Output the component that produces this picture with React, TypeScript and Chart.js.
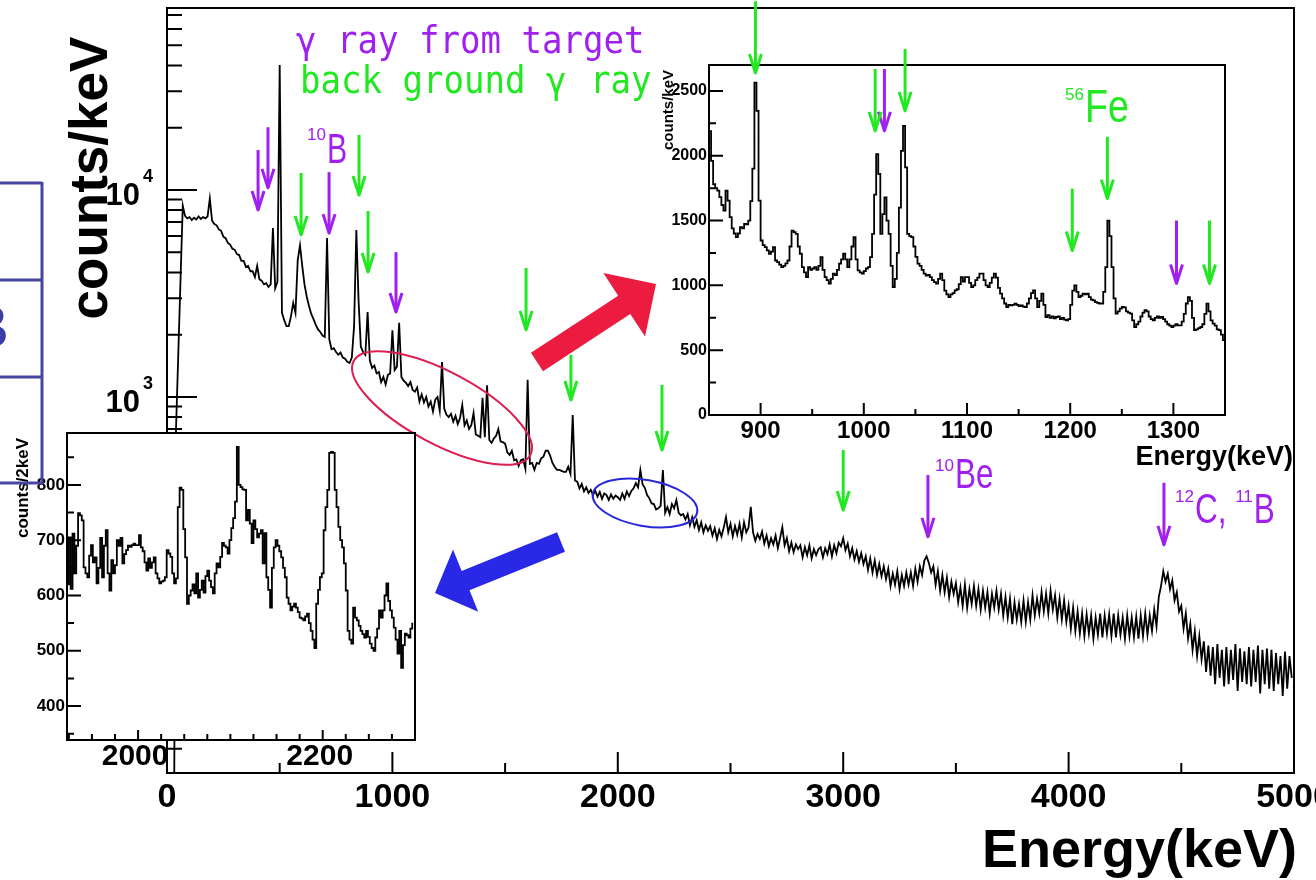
import React, { useEffect, useRef } from "react";
import { Chart, registerables } from "chart.js";

Chart.register(...registerables);

const PAGE_W = 1316;
const PAGE_H = 880;

const SANS = '"Liberation Sans", Arial, Helvetica, sans-serif';
const MONO = '"DejaVu Sans Mono", "Liberation Mono", monospace';
const PURPLE = "#a020f0";
const GREEN = "#22e822";

// ---------- full spectrum, 10 keV bins, counts/keV ----------
const spectrumStartKeV = 0;
const spectrumBinKeV = 10;
const spectrumCounts = [
  3, 3, 3, 5, 700, 1600, 3700, 8400, 7500, 7300,
  7400, 7150, 7350, 7200, 7450, 7250, 7400, 7300, 7450, 9100,
  7100, 6850, 6750, 6450, 6350, 5950, 5850, 5550, 5450, 5200,
  5150, 4900, 4850, 4550, 4550, 4250, 4300, 4050, 4050, 3800,
  4300, 3700, 3650, 3500, 3550, 3400, 3500, 6550, 3350, 3600,
  40200, 2550, 2350, 2200, 2200, 2450, 2850, 2550, 4600, 5400,
  4300, 3500, 3050, 2750, 2520, 2380, 2230, 2120, 2060, 1980,
  1950, 5870, 1900, 1700, 1720, 1650, 1600, 1640, 1550, 1530,
  1480, 1460, 1550, 2200, 6400, 2900, 1750, 1650, 1600, 2570,
  1500, 1380, 1420, 1300, 1320, 1180, 1250, 1150, 1280, 1300,
  2100, 1350, 1400, 2280, 1250, 1200, 1170, 1130, 1180, 1080,
  1060, 1110, 950, 1030, 940, 1000, 900, 950, 850, 970,
  1000, 860, 1475, 880, 820, 800, 830, 760, 810, 740,
  790, 915, 730, 770, 700, 730, 837, 660, 650, 640,
  990, 640, 1140, 620, 600, 630, 650, 700, 610, 605,
  595, 540, 525, 550, 495, 500, 465, 495, 500, 450,
  1210, 475, 480, 445, 480, 475, 505, 515, 550, 550,
  520, 480, 460, 445, 445, 440, 435, 435, 460, 425,
  818, 395, 390, 362, 380, 350, 366, 344, 356, 336,
  352, 330, 348, 322, 342, 336, 318, 338, 322, 334,
  328, 318, 342, 322, 350, 332, 352, 362, 384, 366,
  444, 378, 364, 336, 324, 306, 304, 286, 290, 298,
  444, 276, 294, 272, 304, 290, 318, 276, 268, 272,
  256, 272, 240, 262, 236, 254, 228, 248, 222, 240,
  226, 238, 214, 232, 206, 228, 212, 234, 263, 222,
  244, 212, 238, 216, 244, 210, 248, 222, 234, 295,
  222, 202, 218, 206, 224, 196, 214, 190, 208, 194,
  214, 186, 208, 235, 192, 208, 180, 198, 178, 194,
  184, 192, 168, 188, 172, 192, 166, 184, 172, 184,
  188, 168, 186, 174, 194, 170, 192, 176, 198, 190,
  208, 182, 196, 170, 186, 164, 180, 160, 176, 156,
  170, 146, 166, 142, 162, 138, 156, 136, 152, 132,
  148, 122, 140, 124, 144, 118, 138, 122, 142, 124,
  142, 122, 148, 128, 152, 138, 162, 170, 158, 142,
  152, 124, 144, 116, 138, 114, 134, 108, 128, 112,
  126, 102, 120, 98, 124, 96, 118, 100, 122, 98,
  118, 94, 116, 96, 114, 90, 112, 96, 116, 94,
  112, 88, 108, 86, 106, 80, 102, 84, 100, 82,
  104, 82, 102, 84, 110, 88, 106, 90, 114, 92,
  112, 90, 116, 94, 110, 86, 106, 84, 104, 82,
  98, 76, 96, 74, 92, 72, 90, 70, 89, 72,
  88, 68, 86, 71, 90, 69, 88, 72, 89, 70,
  90, 69, 88, 71, 86, 68, 88, 70, 86, 69,
  87, 68, 88, 70, 90, 71, 88, 74, 94, 78,
  108, 122, 144, 128, 140, 118, 130, 104, 114, 92,
  98, 76, 90, 68, 80, 60, 74, 56, 70, 54,
  66, 47, 63, 45, 62, 41, 64, 44, 60, 40,
  62, 41, 60, 43, 64, 38, 61, 42, 59, 41,
  62, 40, 60, 42, 63, 37, 60, 41, 61, 39,
  60, 38, 58, 41, 56, 36, 59, 39, 56, 44,
];

// ---------- zoom 850-1350 keV, 2 keV bins, counts/keV ----------
const lowZoomStartKeV = 851;
const lowZoomBinKeV = 2;
const lowZoomCounts = [
  2190, 1960, 1780, 1750, 1731, 1680, 1620, 1577, 1731, 1654, 1526, 1440, 1400, 1372, 1400, 1449, 1440, 1474, 1470, 1500, 1650, 1900, 2564, 2346, 1654,
  1346, 1310, 1295, 1270, 1244, 1260, 1295, 1192, 1180, 1160, 1141, 1150, 1170, 1192, 1300, 1423, 1410, 1397, 1300, 1244, 1141, 1100, 1064, 1141, 1120,
  1130, 1141, 1120, 1150, 1218, 1120, 1064, 1040, 1013, 1050, 1090, 1080, 1120, 1167, 1200, 1244, 1200, 1141, 1200, 1300, 1372, 1200, 1115, 1100, 1090,
  1110, 1130, 1141, 1218, 1397, 1700, 2013, 1859, 1397, 1550, 1679, 1500, 1397, 1150, 987, 1050, 1250, 1600, 2038, 2231, 1910, 1397, 1380, 1372, 1300,
  1220, 1167, 1150, 1120, 1090, 1075, 1080, 1064, 1040, 1025, 1013, 1050, 1090, 1040, 960, 930, 910, 930, 940, 962, 970, 1010, 1064, 1030, 1064,
  1064, 1020, 987, 1000, 1040, 1060, 1090, 1090, 1040, 1000, 987, 1020, 1060, 1090, 1060, 980, 936, 900, 860, 833, 850, 845, 850, 859, 850,
  840, 845, 836, 833, 860, 900, 940, 962, 900, 833, 880, 936, 850, 756, 770, 750, 760, 745, 756, 760, 740, 750, 735, 731, 740,
  850, 960, 1000, 950, 910, 920, 936, 930, 936, 910, 890, 885, 870, 865, 860, 859, 950, 1141, 1500, 1380, 1141, 900, 782, 800, 820,
  833, 830, 800, 790, 782, 730, 679, 700, 720, 760, 790, 808, 800, 760, 740, 731, 750, 760, 750, 756, 740, 720, 700, 690, 679,
  690, 700, 692, 692, 720, 780, 860, 910, 880, 750, 654, 660, 670, 679, 700, 780, 859, 800, 730, 705, 690, 660, 654, 620, 577,
];

// ---------- zoom 1923-2300 keV, 2 keV bins, counts/2keV ----------
const highZoomStartKeV = 1924;
const highZoomBinKeV = 2;
const highZoomCounts = [
  620, 705, 612, 712, 640, 690, 749, 745, 736, 651,
  640, 633, 672, 691, 660, 669, 622, 650, 704, 633,
  690, 718, 640, 609, 664, 640, 655, 700, 690, 704,
  658, 675, 682, 690, 688, 691, 694, 691, 691, 709,
  687, 680, 660, 645, 667, 650, 660, 669, 640, 631,
  622, 625, 627, 633, 682, 676, 670, 640, 622, 631,
  760, 795, 791, 720, 669, 585, 600, 609, 620, 604,
  640, 596, 610, 627, 605, 635, 645, 627, 615, 604,
  640, 658, 651, 670, 695, 690, 687, 676, 700, 722,
  740, 770, 869, 800, 796, 792, 791, 736, 755, 730,
  695, 736, 720, 705, 712, 718, 658, 713, 633, 610,
  578, 650, 687, 700, 690, 680, 669, 650, 633, 596,
  585, 573, 580, 585, 578, 570, 560, 558, 555, 562,
  567, 550, 536, 520, 505, 585, 610, 633, 640, 718,
  760, 791, 858, 860, 858, 791, 760, 724, 700, 687,
  658, 609, 536, 520, 513, 578, 560, 555, 545, 536,
  530, 524, 536, 525, 513, 505, 500, 524, 540, 573,
  560, 573, 600, 622, 590, 573, 560, 542, 520, 495,
  536, 469, 510, 531, 528, 524, 540, 549,
];

// ---------- axis ticks ----------
const mainMajorX = [0, 1000, 2000, 3000, 4000, 5000];
const mainMinorX = [500, 1500, 2500, 3500, 4500];
const mainDecades = [1, 2, 3, 4];
const mainLabelDecades = [3, 4];

const lowMajorX = [900, 1000, 1100, 1200, 1300];
const lowMinorX = [850, 950, 1050, 1150, 1250, 1350];
const lowMajorY = [0, 500, 1000, 1500, 2000, 2500];
const lowMinorY = [250, 750, 1250, 1750, 2250];

const highLabelX = [2000, 2200];
const highTickX = [1925, 1950, 1975, 2000, 2025, 2050, 2075, 2100, 2125, 2150, 2175, 2200, 2225, 2250, 2275];
const highMajorY = [400, 500, 600, 700, 800];
const highMinorY = [350, 450, 550, 650, 750, 850];

// ---------- line markers: [energy keV, arrow top, arrow tip] in counts ----------
const mainTargetMarks = [
  [404, 15600, 8000],
  [448, 20100, 10240],
  [719, 12200, 6190],
  [1016, 5010, 2575],
  [3376, 420, 211],
  [4423, 385, 193],
];
const mainBackgroundMarks = [
  [595, 12080, 6070],
  [852, 18460, 9460],
  [892, 7920, 4020],
  [1593, 4200, 2110],
  [1792, 1597, 968],
  [2196, 1143, 555],
  [3000, 555, 284],
];
const lowTargetMarks = [
  [1020, 2669, 2192],
  [1303, 1500, 1015],
];
const lowBackgroundMarks = [
  [895, 3192, 2638],
  [1011, 2669, 2192],
  [1040, 2823, 2346],
  [1202, 1746, 1269],
  [1236, 2146, 1669],
  [1335, 1500, 1015],
];

function binsToPoints(start: number, width: number, counts: number[]) {
  return counts.map((c, i) => ({ x: start + i * width, y: c }));
}

function downArrow(ctx: CanvasRenderingContext2D, x: number, yTop: number, yTip: number, color: string) {
  ctx.save();
  ctx.strokeStyle = color;
  ctx.lineWidth = 3;
  ctx.lineJoin = "round";
  ctx.beginPath();
  ctx.moveTo(x, yTop);
  ctx.lineTo(x, yTip);
  ctx.stroke();
  ctx.beginPath();
  ctx.moveTo(x - 6, yTip - 19);
  ctx.lineTo(x, yTip);
  ctx.lineTo(x + 6, yTip - 19);
  ctx.stroke();
  ctx.restore();
}

function blockArrow(
  ctx: CanvasRenderingContext2D,
  tx: number, ty: number, hx: number, hy: number,
  shaft: number, headW: number, headL: number, color: string
) {
  const dx = hx - tx;
  const dy = hy - ty;
  const len = Math.hypot(dx, dy);
  const ux = dx / len;
  const uy = dy / len;
  const nx = -uy;
  const ny = ux;
  const bx = hx - ux * headL;
  const by = hy - uy * headL;
  ctx.save();
  ctx.fillStyle = color;
  ctx.beginPath();
  ctx.moveTo(tx + (nx * shaft) / 2, ty + (ny * shaft) / 2);
  ctx.lineTo(bx + (nx * shaft) / 2, by + (ny * shaft) / 2);
  ctx.lineTo(bx + (nx * headW) / 2, by + (ny * headW) / 2);
  ctx.lineTo(hx, hy);
  ctx.lineTo(bx - (nx * headW) / 2, by - (ny * headW) / 2);
  ctx.lineTo(bx - (nx * shaft) / 2, by - (ny * shaft) / 2);
  ctx.lineTo(tx - (nx * shaft) / 2, ty - (ny * shaft) / 2);
  ctx.closePath();
  ctx.fill();
  ctx.restore();
}

// nuclide label: pairs of [mass number, symbol text]
function nuclide(
  ctx: CanvasRenderingContext2D, x: number, baseline: number,
  parts: string[][], color: string, bigPx: number, squeeze: number, supRaise: number
) {
  ctx.save();
  ctx.fillStyle = color;
  ctx.textAlign = "left";
  ctx.textBaseline = "alphabetic";
  let cx = x;
  for (const [sup, main] of parts) {
    ctx.font = `17px ${SANS}`;
    ctx.fillText(sup, cx, baseline - supRaise);
    cx += ctx.measureText(sup).width + 1;
    ctx.font = `${bigPx}px ${SANS}`;
    const w = ctx.measureText(main).width * squeeze;
    ctx.save();
    ctx.translate(cx, baseline);
    ctx.scale(squeeze, 1);
    ctx.fillText(main, 0, 0);
    ctx.restore();
    cx += w;
  }
  ctx.restore();
}

function rotatedText(ctx: CanvasRenderingContext2D, text: string, x: number, y: number, font: string) {
  ctx.save();
  ctx.translate(x, y);
  ctx.rotate(-Math.PI / 2);
  ctx.font = font;
  ctx.fillStyle = "#000";
  ctx.textAlign = "center";
  ctx.textBaseline = "alphabetic";
  ctx.fillText(text, 0, 0);
  ctx.restore();
}

function monoText(ctx: CanvasRenderingContext2D, text: string, x: number, baseline: number, color: string) {
  ctx.save();
  ctx.translate(x, baseline);
  ctx.scale(0.92, 1);
  ctx.font = `37px ${MONO}`;
  ctx.fillStyle = color;
  ctx.textAlign = "left";
  ctx.textBaseline = "alphabetic";
  ctx.fillText(text, 0, 0);
  ctx.restore();
}

function whiteFrame() {
  return {
    id: "whiteFrame",
    beforeDatasetsDraw(chart: any) {
      const { ctx, chartArea: a } = chart;
      ctx.save();
      ctx.fillStyle = "#fff";
      ctx.fillRect(a.left, a.top, a.right - a.left, a.bottom - a.top);
      ctx.restore();
    },
  };
}

// ---------- decoration of the full spectrum ----------
const mainDecor = {
  id: "mainDecor",
  afterDraw(chart: any) {
    const { ctx, chartArea: a } = chart;
    const xs = chart.scales.x;
    const ys = chart.scales.y;
    ctx.save();
    ctx.strokeStyle = "#000";
    ctx.lineWidth = 2;
    ctx.strokeRect(a.left, a.top, a.right - a.left, a.bottom - a.top);

    ctx.beginPath();
    for (const v of mainMajorX) {
      const x = xs.getPixelForValue(v);
      ctx.moveTo(x, a.bottom);
      ctx.lineTo(x, a.bottom - 21);
    }
    for (const v of mainMinorX) {
      const x = xs.getPixelForValue(v);
      ctx.moveTo(x, a.bottom);
      ctx.lineTo(x, a.bottom - 10);
    }
    for (const d of mainDecades) {
      for (let k = 1; k <= 9; k++) {
        const v = k * Math.pow(10, d);
        if (v < ys.min || v > ys.max) continue;
        const y = ys.getPixelForValue(v);
        ctx.moveTo(a.left, y);
        ctx.lineTo(a.left + (k === 1 ? 30 : 15), y);
      }
    }
    ctx.stroke();

    ctx.fillStyle = "#000";
    ctx.font = `bold 34px ${SANS}`;
    ctx.textAlign = "center";
    ctx.textBaseline = "middle";
    for (const v of mainMajorX) ctx.fillText(String(v), xs.getPixelForValue(v), a.bottom + 25);

    for (const d of mainLabelDecades) {
      const y = ys.getPixelForValue(Math.pow(10, d));
      ctx.textBaseline = "alphabetic";
      ctx.textAlign = "right";
      ctx.font = `bold 31px ${SANS}`;
      ctx.fillText("10", a.left - 27, y + 15);
      ctx.textAlign = "left";
      ctx.font = `bold 18px ${SANS}`;
      ctx.fillText(String(d), a.left - 24, y - 8);
    }

    rotatedText(ctx, "counts/keV", 107, 178, `bold 53px ${SANS}`);
    ctx.font = `bold 54px ${SANS}`;
    ctx.textAlign = "right";
    ctx.textBaseline = "alphabetic";
    ctx.fillText("Energy(keV)", 1297, 867);

    // legend lines
    monoText(ctx, "\u03b3 ray from target", 296, 53, PURPLE);
    monoText(ctx, "back ground \u03b3", 300, 93, GREEN);
    monoText(ctx, "ray", 590, 93, GREEN);

    for (const [e, top, tip] of mainTargetMarks)
      downArrow(ctx, xs.getPixelForValue(e), ys.getPixelForValue(top), ys.getPixelForValue(tip), PURPLE);
    for (const [e, top, tip] of mainBackgroundMarks)
      downArrow(ctx, xs.getPixelForValue(e), ys.getPixelForValue(top), ys.getPixelForValue(tip), GREEN);

    nuclide(ctx, 307, 163, [["10", "B"]], PURPLE, 42, 0.72, 23);
    nuclide(ctx, 935, 488, [["10", "Be"]], PURPLE, 42, 0.75, 17);
    nuclide(ctx, 1175, 523, [["12", "C, "], ["11", "B"]], PURPLE, 42, 0.75, 21);

    // highlighted regions
    ctx.lineWidth = 2;
    ctx.strokeStyle = "#dc1e50";
    ctx.beginPath();
    ctx.ellipse(442, 408, 100, 36, (28 * Math.PI) / 180, 0, Math.PI * 2);
    ctx.stroke();
    ctx.strokeStyle = "#2828d8";
    ctx.beginPath();
    ctx.ellipse(645, 503, 53, 23, (10 * Math.PI) / 180, 0, Math.PI * 2);
    ctx.stroke();

    blockArrow(ctx, 537, 362, 656, 284, 22, 76, 38, "#ec1c40");
    blockArrow(ctx, 561, 542, 435, 593, 21, 67, 33, "#2828e6");
    ctx.restore();
  },
};

// ---------- decoration of the 850-1350 keV zoom ----------
function lowZoomDecor(ox: number, oy: number) {
  return {
    id: "lowZoomDecor",
    afterDraw(chart: any) {
      const { ctx, chartArea: a } = chart;
      const xs = chart.scales.x;
      const ys = chart.scales.y;
      ctx.save();
      ctx.strokeStyle = "#000";
      ctx.lineWidth = 2;
      ctx.strokeRect(a.left, a.top, a.right - a.left, a.bottom - a.top);
      ctx.beginPath();
      for (const v of lowMajorY) {
        const y = ys.getPixelForValue(v);
        ctx.moveTo(a.left, y);
        ctx.lineTo(a.left + 14, y);
      }
      for (const v of lowMinorY) {
        const y = ys.getPixelForValue(v);
        ctx.moveTo(a.left, y);
        ctx.lineTo(a.left + 7, y);
      }
      for (const v of lowMajorX) {
        const x = xs.getPixelForValue(v);
        ctx.moveTo(x, a.bottom);
        ctx.lineTo(x, a.bottom - 12);
      }
      for (const v of lowMinorX) {
        const x = xs.getPixelForValue(v);
        ctx.moveTo(x, a.bottom);
        ctx.lineTo(x, a.bottom - 6);
      }
      ctx.stroke();

      ctx.fillStyle = "#000";
      ctx.font = `bold 16px ${SANS}`;
      ctx.textAlign = "right";
      ctx.textBaseline = "middle";
      for (const v of lowMajorY) ctx.fillText(String(v), a.left - 2, ys.getPixelForValue(v));
      ctx.font = `bold 24px ${SANS}`;
      ctx.textAlign = "center";
      for (const v of lowMajorX) ctx.fillText(String(v), xs.getPixelForValue(v), a.bottom + 16);

      ctx.translate(-ox, -oy);
      ctx.font = `bold 27px ${SANS}`;
      ctx.textAlign = "right";
      ctx.textBaseline = "alphabetic";
      ctx.fillText("Energy(keV)", 1293, 465);
      rotatedText(ctx, "counts/keV", 673, 110, `bold 15px ${SANS}`);

      for (const [e, top, tip] of lowTargetMarks)
        downArrow(ctx, ox + xs.getPixelForValue(e), oy + ys.getPixelForValue(top), oy + ys.getPixelForValue(tip), PURPLE);
      for (const [e, top, tip] of lowBackgroundMarks)
        downArrow(ctx, ox + xs.getPixelForValue(e), oy + ys.getPixelForValue(top), oy + ys.getPixelForValue(tip), GREEN);
      nuclide(ctx, 1065, 122, [["56", "Fe"]], GREEN, 47, 0.8, 22);
      ctx.restore();
    },
  };
}

// ---------- decoration of the 1923-2300 keV zoom ----------
function highZoomDecor(ox: number, oy: number) {
  return {
    id: "highZoomDecor",
    afterDraw(chart: any) {
      const { ctx, chartArea: a } = chart;
      const xs = chart.scales.x;
      const ys = chart.scales.y;
      ctx.save();
      ctx.strokeStyle = "#000";
      ctx.lineWidth = 2;
      ctx.strokeRect(a.left, a.top, a.right - a.left, a.bottom - a.top);
      ctx.beginPath();
      for (const v of highMajorY) {
        const y = ys.getPixelForValue(v);
        ctx.moveTo(a.left, y);
        ctx.lineTo(a.left + 14, y);
      }
      for (const v of highMinorY) {
        const y = ys.getPixelForValue(v);
        ctx.moveTo(a.left, y);
        ctx.lineTo(a.left + 7, y);
      }
      for (const v of highTickX) {
        const x = xs.getPixelForValue(v);
        ctx.moveTo(x, a.bottom);
        ctx.lineTo(x, a.bottom - (highLabelX.includes(v) ? 10 : 6));
      }
      ctx.stroke();

      ctx.fillStyle = "#000";
      ctx.font = `bold 17px ${SANS}`;
      ctx.textAlign = "right";
      ctx.textBaseline = "middle";
      for (const v of highMajorY) ctx.fillText(String(v), a.left - 2, ys.getPixelForValue(v));
      ctx.font = `bold 30px ${SANS}`;
      ctx.textAlign = "center";
      for (const v of highLabelX) ctx.fillText(String(v), xs.getPixelForValue(v) - 3, a.bottom + 17);

      ctx.translate(-ox, -oy);
      rotatedText(ctx, "counts/2keV", 28, 488, `bold 17px ${SANS}`);

      // partial table frame at the left edge
      ctx.fillStyle = "#3c3ca8";
      ctx.font = `60px ${SANS}`;
      ctx.textAlign = "left";
      ctx.textBaseline = "alphabetic";
      ctx.fillText("B", -31, 347);
      ctx.strokeStyle = "#4646a0";
      ctx.lineWidth = 3;
      ctx.beginPath();
      ctx.moveTo(42, 182);
      ctx.lineTo(42, 484);
      for (const y of [183, 280, 377, 483]) {
        ctx.moveTo(0, y);
        ctx.lineTo(42, y);
      }
      ctx.stroke();
      ctx.restore();
    },
  };
}

function SpectrumCanvas(props: { left: number; top: number; width: number; height: number; build: (c: HTMLCanvasElement) => Chart }) {
  const ref = useRef<HTMLCanvasElement>(null);
  useEffect(() => {
    const chart = props.build(ref.current as HTMLCanvasElement);
    return () => chart.destroy();
  }, []);
  return (
    <canvas
      ref={ref}
      width={props.width}
      height={props.height}
      style={{ position: "absolute", left: props.left, top: props.top, width: props.width, height: props.height }}
    />
  );
}

function baseOptions(padding: any, xMin: number, xMax: number, yType: string, yMin: number, yMax: number) {
  return {
    responsive: false,
    animation: false,
    devicePixelRatio: 1,
    events: [],
    layout: { padding },
    plugins: { legend: { display: false }, tooltip: { enabled: false }, title: { display: false } },
    scales: {
      x: { type: "linear", min: xMin, max: xMax, display: false, bounds: "data" },
      y: { type: yType, min: yMin, max: yMax, display: false, bounds: "data" },
    },
  } as any;
}

function buildMain(canvas: HTMLCanvasElement) {
  return new Chart(canvas, {
    type: "line",
    data: {
      datasets: [
        {
          data: binsToPoints(spectrumStartKeV, spectrumBinKeV, spectrumCounts),
          borderColor: "#000",
          borderWidth: 1.8,
          pointRadius: 0,
          fill: false,
          tension: 0,
        },
      ],
    },
    options: baseOptions({ left: 167, top: 8, right: PAGE_W - 1294, bottom: PAGE_H - 773 }, 0, 5000, "logarithmic", 15.26, 75730),
    plugins: [mainDecor],
  } as any);
}

const LOW_BOX = { left: 640, top: 0, width: 676, height: 480 };
function buildLowZoom(canvas: HTMLCanvasElement) {
  const b = LOW_BOX;
  return new Chart(canvas, {
    type: "line",
    data: {
      datasets: [
        {
          data: binsToPoints(lowZoomStartKeV, lowZoomBinKeV, lowZoomCounts),
          borderColor: "#000",
          borderWidth: 1.8,
          pointRadius: 0,
          fill: false,
          stepped: "middle",
        },
      ],
    },
    options: baseOptions(
      { left: 709 - b.left, top: 65 - b.top, right: b.left + b.width - 1225, bottom: b.top + b.height - 415 },
      850, 1350, "linear", 0, 2700
    ),
    plugins: [whiteFrame(), lowZoomDecor(b.left, b.top)],
  } as any);
}

const HIGH_BOX = { left: 0, top: 170, width: 440, height: 620 };
function buildHighZoom(canvas: HTMLCanvasElement) {
  const b = HIGH_BOX;
  return new Chart(canvas, {
    type: "line",
    data: {
      datasets: [
        {
          data: binsToPoints(highZoomStartKeV, highZoomBinKeV, highZoomCounts),
          borderColor: "#000",
          borderWidth: 1.8,
          pointRadius: 0,
          fill: false,
          stepped: "middle",
        },
      ],
    },
    options: baseOptions(
      { left: 67 - b.left, top: 433 - b.top, right: b.left + b.width - 415, bottom: b.top + b.height - 740 },
      1923, 2300, "linear", 338.5, 894
    ),
    plugins: [whiteFrame(), highZoomDecor(b.left, b.top)],
  } as any);
}

export default function App() {
  return (
    <div
      style={{
        position: "absolute",
        left: 0,
        top: 0,
        width: PAGE_W,
        height: PAGE_H,
        background: "#fff",
        overflow: "hidden",
      }}
    >
      <SpectrumCanvas left={0} top={0} width={PAGE_W} height={PAGE_H} build={buildMain} />
      <SpectrumCanvas {...LOW_BOX} build={buildLowZoom} />
      <SpectrumCanvas {...HIGH_BOX} build={buildHighZoom} />
    </div>
  );
}
